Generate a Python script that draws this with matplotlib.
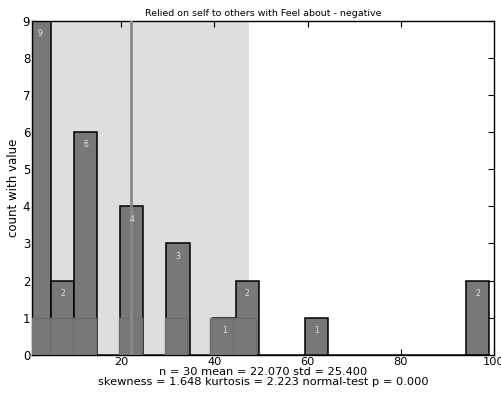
import numpy as np
import matplotlib
matplotlib.use('Agg')
import matplotlib.pyplot as plt

# histogram of the responses (20 bins over 0..99)
bin_start = 0.0
bin_width = 4.95
counts = [9, 2, 6, 0, 4, 0, 3, 0, 1, 2, 0, 0, 1, 0, 0, 0, 0, 0, 0, 2]

# second, slightly shifted layer drawn over the bar bottoms
layer_start = -0.3
layer_width = 4.93
layer_counts = [1, 1, 1, 0, 1, 0, 1, 0, 1, 1, 0, 0, 0, 0, 0, 0, 0, 0, 0]

n = 30
mean = 22.070
std = 25.400
skewness = 1.648
kurtosis = 2.223
p_value = 0.000

title = 'Relied on self to others with Feel about - negative'

fig = plt.figure(figsize=(5.01, 3.97), dpi=100)
ax = fig.add_axes([0.0645, 0.106, 0.9215, 0.842])

# mean +- std band
ax.axvspan(mean - std, mean + std, color='#dedede', zorder=0, lw=0)

lefts = bin_start + bin_width * np.arange(len(counts))
ax.bar(lefts, counts, width=bin_width, align='edge', color='#787878',
       edgecolor='black', linewidth=1.1, zorder=2)

layer_lefts = layer_start + layer_width * np.arange(len(layer_counts))
ax.bar(layer_lefts, layer_counts, width=layer_width, align='edge',
       color='#787878', edgecolor='#6c6c6c', linewidth=1.0, zorder=3)

# mean line
ax.axvline(mean, color='#8a8a8a', linewidth=2, zorder=4)

# count labels
for x, c in zip(lefts, counts):
    if c > 0:
        ax.text(x + bin_width / 2, c - 0.22, str(c), color='#e6e6e6',
                fontsize=5.5, ha='center', va='top', zorder=5)

ax.set_xlim(0.9, 100)
ax.set_ylim(0, 9)
ax.set_xticks([20, 40, 60, 80, 100])
ax.set_yticks(range(0, 10))
ax.tick_params(direction='in', top=True, right=True, labelsize=8.5,
               length=4, pad=1.5)
ax.tick_params(axis='x', labelsize=8.2)
for s in ax.spines.values():
    s.set_linewidth(1)

ax.set_title(title, fontsize=6.8, pad=3)
ax.set_ylabel('count with value', fontsize=8.5, labelpad=2)
ax.set_xlabel('n = %d mean = %.3f std = %.3f\nskewness = %.3f kurtosis = %.3f normal-test p = %.3f'
              % (n, mean, std, skewness, kurtosis, p_value),
              fontsize=8.2, labelpad=0.3, linespacing=0.92)

fig.savefig('out.png', dpi=100)
